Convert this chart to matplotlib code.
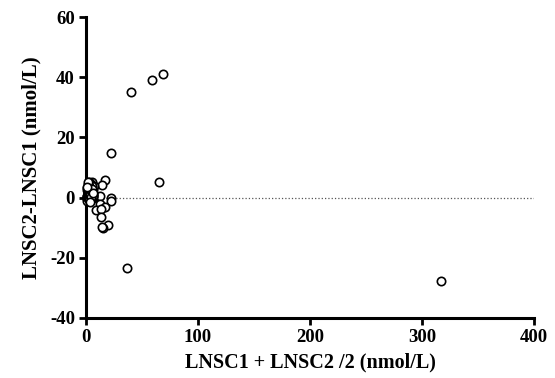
import numpy as np
import matplotlib
matplotlib.use('Agg')
import matplotlib.pyplot as plt

# mean of the two measurements (x) and their difference (y), nmol/L
mean_vals = [40.2, 59.0, 68.8, 22.3, 65.0, 36.6, 317.0,
             17.0, 14.0, 12.5, 22.0, 22.6, 12.5, 16.7, 9.0, 13.0, 13.0,
             19.6, 15.5, 14.0,
             0.5, 1.0, 1.5, 2.0, 2.5, 3.0, 3.5, 4.0, 4.5, 5.0, 5.5, 6.0,
             1.0, 1.5, 2.0, 2.5, 3.0, 3.5, 4.0, 4.5, 5.0, 5.5, 6.5, 7.0,
             0.8, 1.8, 2.8, 3.8, 4.8, 5.8, 1.2, 2.2, 3.2, 4.2, 5.2, 6.2,
             0.6, 2.6, 4.6, 6.6,
             1.1, 1.9, 2.7, 3.4, 4.1, 4.9, 5.6, 1.4, 2.1, 2.9, 3.6, 4.4,
             5.1, 5.9, 1.7, 2.4, 3.1, 3.9, 4.7, 5.4, 6.1, 1.3, 2.3, 3.3,
             4.3, 5.3, 1.6, 2.9, 3.7, 4.0, 4.6, 5.7, 2.0, 3.5, 6.4, 1.0]
diff_vals = [35.0, 39.0, 41.0, 14.7, 5.3, -23.3, -27.7,
             5.7, 4.1, 0.4, -0.1, -1.2, -2.1, -3.2, -4.3, -3.7, -6.6,
             -9.0, -10.2, -9.7,
             0.0, 0.5, 1.0, 1.5, 2.0, 2.5, 3.0, 3.5, 4.0, 4.5, 5.0, 3.8,
             -0.5, -1.0, 0.2, 2.8, 4.2, 1.2, 0.0, 2.2, 3.2, 1.8, 2.5, 4.0,
             -1.2, 1.6, 0.8, 4.8, 0.6, -0.3, 2.4, 3.6, -0.8, 1.4, 3.0, 1.0,
             0.6, 5.0, -0.5, 0.4,
             0.3, 1.1, 2.0, 2.6, 1.7, 3.4, 2.1, -0.2, 0.9, 1.5, 3.9, 2.9,
             0.1, 1.3, 2.7, 4.4, 0.7, 3.1, 4.1, 2.3, 0.5, 3.3, -0.7, 1.9,
             -0.4, 3.7, 4.6, 4.0, 1.0, 2.4, 0.2, 2.7, 5.3, -1.4, 1.6, 3.6]

xticks = [0, 100, 200, 300, 400]
yticks = [-40, -20, 0, 20, 40, 60]

plt.rcParams['font.family'] = ['Liberation Serif', 'DejaVu Serif']
plt.rcParams['font.weight'] = 'bold'
plt.rcParams['axes.unicode_minus'] = False

fig = plt.figure(figsize=(5.55, 3.78), dpi=100)
ax = fig.add_axes([0.155, 0.159, 0.807, 0.796])

ax.axhline(0, color='#555555', linestyle=':', linewidth=0.9, zorder=1)
ax.plot(mean_vals, diff_vals, 'o', markersize=6, markerfacecolor='white',
        markeredgecolor='black', markeredgewidth=1.2, zorder=3, clip_on=False)

ax.set_xlim(0, 400)
ax.set_ylim(-40, 60)
ax.set_xticks(xticks)
ax.set_yticks(yticks)

for side in ['top', 'right']:
    ax.spines[side].set_visible(False)
for side in ['left', 'bottom']:
    ax.spines[side].set_linewidth(2.2)

ax.tick_params(direction='out', length=5, width=2, labelsize=13.5, pad=3)
for lab in ax.get_xticklabels() + ax.get_yticklabels():
    lab.set_fontweight('bold')

ax.set_xlabel('LNSC1 + LNSC2 /2 (nmol/L)', fontsize=14.5, fontweight='bold', labelpad=5)
ax.set_ylabel('LNSC2-LNSC1 (nmol/L)', fontsize=15, fontweight='bold', labelpad=6)

fig.savefig('out.png', dpi=100)
